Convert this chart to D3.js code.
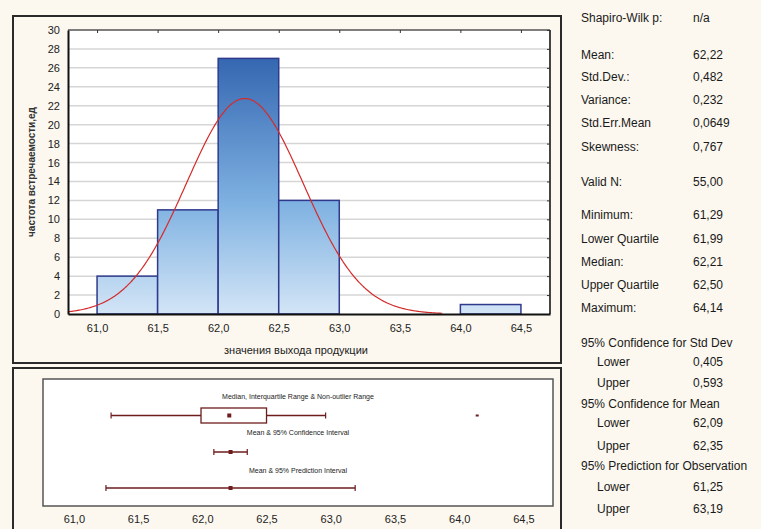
<!DOCTYPE html>
<html>
<head>
<meta charset="utf-8">
<script src="https://cdn.jsdelivr.net/npm/d3@7"></script>
<style>
  body { margin: 0; background: #fcf8ef; }
  svg { display: block; font-family: Arial, "Liberation Sans", sans-serif; }
</style>
</head>
<body>
<div id="chart"></div>
<script>
// histogram data (bins of 0.5)
var binStarts = [61.0, 61.5, 62.0, 62.5, 63.0, 63.5, 64.0];
var binCounts = [4, 11, 27, 12, 0, 0, 1];
var binWidth = 0.5;

// tick labels
var xTicks = [61.0, 61.5, 62.0, 62.5, 63.0, 63.5, 64.0, 64.5];
var yTicks = [0, 2, 4, 6, 8, 10, 12, 14, 16, 18, 20, 22, 24, 26, 28, 30];

// fitted normal curve parameters
var fitMean = 62.22;
var fitSd = 0.482;
var fitN = 55;
var fitEnd = 63.85;

// box plot values
var whiskers = [61.29, 62.96];
var quartiles = [61.99, 62.50];
var median = 62.21;
var outliers = [64.14];
var meanCI = [62.09, 62.22, 62.35];
var predInt = [61.25, 62.22, 63.19];

// statistics panel
var statLabels = ["Shapiro-Wilk p:", "Mean:", "Std.Dev.:", "Variance:", "Std.Err.Mean", "Skewness:",
    "Valid N:", "Minimum:", "Lower Quartile", "Median:", "Upper Quartile", "Maximum:",
    "95% Confidence for Std Dev", "Lower", "Upper", "95% Confidence for Mean", "Lower", "Upper",
    "95% Prediction for Observation", "Lower", "Upper"];
var statValues = ["n/a", "62,22", "0,482", "0,232", "0,0649", "0,767",
    "55,00", "61,29", "61,99", "62,21", "62,50", "64,14",
    "", "0,405", "0,593", "", "62,09", "62,35", "", "61,25", "63,19"];
var statIndent = [0,0,0,0,0,0, 0,0,0,0,0,0, 0,1,1,0,1,1,0,1,1];

// layout of the stats rows (text centres)
var statRowY = [18, 55, 77, 100, 123, 147, 182, 215, 239, 262, 285, 308, 343, 362, 383, 404, 423, 446, 466, 487, 509];

var fmt = function(v) { return d3.format(".1f")(v).replace(".", ","); };
var boxColor = "#6e1c1c";

var svg = d3.select("#chart")
    .append("svg")
    .attr("width", 761)
    .attr("height", 529);

// panel borders
svg.append("rect")
    .attr("x", 13).attr("y", 16).attr("width", 548).attr("height", 347)
    .attr("fill", "none").attr("stroke", "#2a2a2a").attr("stroke-width", 2);
svg.append("rect")
    .attr("x", 13).attr("y", 368).attr("width", 548).attr("height", 180)
    .attr("fill", "none").attr("stroke", "#2a2a2a").attr("stroke-width", 2);

// ---------------- histogram ----------------
var hm = {left: 68, top: 30};
var hw = 482, hh = 284;
var hist = svg.append("g")
    .attr("transform", "translate(" + hm.left + "," + hm.top + ")");

var x = d3.scaleLinear().domain([60.76, 64.74]).range([0, hw]);
var y = d3.scaleLinear().domain([0, 30]).range([hh, 0]);

hist.append("rect")
    .attr("width", hw).attr("height", hh)
    .attr("fill", "#ffffff");

// grid lines
hist.selectAll(".grid")
    .data(yTicks.filter(function(d) { return d > 0 && d < 30; }))
    .enter()
    .append("line")
    .attr("x1", 0).attr("x2", hw)
    .attr("y1", function(d) { return y(d); })
    .attr("y2", function(d) { return y(d); })
    .attr("stroke", "#d6d6d6")
    .attr("stroke-width", 1.5);

// gradient for bars (fixed to plot height)
var grad = svg.append("defs")
    .append("linearGradient")
    .attr("id", "barGrad")
    .attr("gradientUnits", "userSpaceOnUse")
    .attr("x1", 0).attr("y1", hm.top)
    .attr("x2", 0).attr("y2", hm.top + hh);
grad.append("stop").attr("offset", "0%").attr("stop-color", "#3668b2");
grad.append("stop").attr("offset", "50%").attr("stop-color", "#7eb1e1");
grad.append("stop").attr("offset", "100%").attr("stop-color", "#eaf3fc");

var bins = binStarts.map(function(s, i) { return {x0: s, x1: s + binWidth, n: binCounts[i]}; })
    .filter(function(d) { return d.n > 0; });

hist.selectAll(".bar")
    .data(bins)
    .enter()
    .append("rect")
    .attr("x", function(d) { return x(d.x0); })
    .attr("y", function(d) { return y(d.n); })
    .attr("width", function(d) { return x(d.x1) - x(d.x0); })
    .attr("height", function(d) { return y(0) - y(d.n); })
    .attr("fill", "url(#barGrad)")
    .attr("stroke", "#2f3a8c")
    .attr("stroke-width", 1.5);

// fitted normal curve
var scaleK = fitN * binWidth / (fitSd * Math.sqrt(2 * Math.PI));
var curveX = d3.range(x.domain()[0], fitEnd, 0.01);
var line = d3.line()
    .x(function(d) { return x(d); })
    .y(function(d) { return y(scaleK * Math.exp(-0.5 * Math.pow((d - fitMean) / fitSd, 2))); })
    .curve(d3.curveMonotoneX);
hist.append("path")
    .datum(curveX)
    .attr("d", line)
    .attr("fill", "none")
    .attr("stroke", "#d42b2b")
    .attr("stroke-width", 1.2);

// frame: top and right gray, left and bottom axes
hist.append("line").attr("x1", 0).attr("x2", hw).attr("y1", 0).attr("y2", 0)
    .attr("stroke", "#555").attr("stroke-width", 1.5);
hist.append("line").attr("x1", hw).attr("x2", hw).attr("y1", 0).attr("y2", hh)
    .attr("stroke", "#444").attr("stroke-width", 2);

hist.append("g")
    .call(d3.axisTop(x).tickValues(xTicks).tickSize(-3).tickFormat(""))
    .call(function(g) { g.select(".domain").remove(); })
    .selectAll("line").attr("stroke", "#333");
hist.append("g")
    .attr("transform", "translate(" + hw + ",0)")
    .call(d3.axisRight(y).tickValues(yTicks).tickSize(-3).tickFormat(""))
    .call(function(g) { g.select(".domain").remove(); })
    .selectAll("line").attr("stroke", "#333");

var xAxis = hist.append("g")
    .attr("transform", "translate(0," + hh + ")")
    .call(d3.axisBottom(x).tickValues(xTicks).tickSize(0).tickPadding(10).tickFormat(fmt));
xAxis.select(".domain").attr("stroke", "#111").attr("stroke-width", 2);
xAxis.selectAll("text").attr("font-size", 11).attr("fill", "#222");

var yAxis = hist.append("g")
    .call(d3.axisLeft(y).tickValues(yTicks).tickSize(0).tickPadding(8));
yAxis.select(".domain").attr("stroke", "#111").attr("stroke-width", 2);
yAxis.selectAll("text").attr("font-size", 11).attr("fill", "#222");

// axis titles
svg.append("text")
    .attr("x", 296).attr("y", 354)
    .attr("text-anchor", "middle")
    .attr("font-size", 11)
    .attr("fill", "#222")
    .text("значения выхода продукции");

svg.append("text")
    .attr("transform", "translate(35,172) rotate(-90)")
    .attr("text-anchor", "middle")
    .attr("font-size", 10)
    .attr("font-weight", "bold")
    .attr("fill", "#333")
    .text("частота встречаемости,ед");

// ---------------- box plot ----------------
var bm = {left: 43, top: 379};
var bw = 510, bh = 127;
var box = svg.append("g")
    .attr("transform", "translate(" + bm.left + "," + bm.top + ")");

var bx = d3.scaleLinear().domain([60.76, 64.73]).range([0, bw]);

box.append("rect")
    .attr("width", bw).attr("height", bh)
    .attr("fill", "#ffffff")
    .attr("stroke", "#555")
    .attr("stroke-width", 1.5);

var labels = [
    {t: "Median, Interquartile Range & Non-outlier Range", y: 19.5},
    {t: "Mean & 95% Confidence Interval", y: 55.5},
    {t: "Mean & 95% Prediction Interval", y: 93.5}
];
box.selectAll(".lab")
    .data(labels)
    .enter()
    .append("text")
    .attr("x", 255)
    .attr("y", function(d) { return d.y; })
    .attr("text-anchor", "middle")
    .attr("font-size", 7)
    .attr("fill", "#222")
    .text(function(d) { return d.t; });

// whisker with caps
function whisker(lo, hi, cy, cap) {
    box.append("line")
        .attr("x1", bx(lo)).attr("x2", bx(hi))
        .attr("y1", cy).attr("y2", cy)
        .attr("stroke", boxColor).attr("stroke-width", 1.5);
    [lo, hi].forEach(function(v) {
        box.append("line")
            .attr("x1", bx(v)).attr("x2", bx(v))
            .attr("y1", cy - cap).attr("y2", cy + cap)
            .attr("stroke", boxColor).attr("stroke-width", 1.2);
    });
}
function marker(v, cy, s) {
    box.append("rect")
        .attr("x", bx(v) - s / 2).attr("y", cy - s / 2)
        .attr("width", s).attr("height", s)
        .attr("fill", boxColor);
}

var boxY = 36.5;
whisker(whiskers[0], whiskers[1], boxY, 3);
box.append("rect")
    .attr("x", bx(quartiles[0]))
    .attr("y", boxY - 7.5)
    .attr("width", bx(quartiles[1]) - bx(quartiles[0]))
    .attr("height", 15)
    .attr("fill", "#ffffff")
    .attr("stroke", boxColor)
    .attr("stroke-width", 1.3);
marker(median, boxY, 4);
outliers.forEach(function(v) {
    box.append("rect")
        .attr("x", bx(v) - 1.5).attr("y", boxY - 1)
        .attr("width", 3).attr("height", 2)
        .attr("fill", boxColor);
});

whisker(meanCI[0], meanCI[2], 73, 3);
marker(meanCI[1], 73, 4);

whisker(predInt[0], predInt[2], 109, 3);
marker(predInt[1], 109, 4);

var bAxis = box.append("g")
    .attr("transform", "translate(0," + bh + ")")
    .call(d3.axisBottom(bx).tickValues(xTicks).tickSize(0).tickPadding(9).tickFormat(fmt));
bAxis.select(".domain").remove();
bAxis.selectAll("text").attr("font-size", 11).attr("fill", "#222");

// ---------------- statistics panel ----------------
var stats = svg.append("g");
stats.selectAll(".slabel")
    .data(statLabels)
    .enter()
    .append("text")
    .attr("x", function(d, i) { return statIndent[i] ? 597 : 581; })
    .attr("y", function(d, i) { return statRowY[i] + 4; })
    .attr("font-size", 12)
    .attr("fill", "#1a1a1a")
    .text(function(d) { return d; });

stats.selectAll(".svalue")
    .data(statValues)
    .enter()
    .append("text")
    .attr("x", 693)
    .attr("y", function(d, i) { return statRowY[i] + 4; })
    .attr("font-size", 12)
    .attr("fill", "#1a1a1a")
    .text(function(d) { return d; });
</script>
</body>
</html>
